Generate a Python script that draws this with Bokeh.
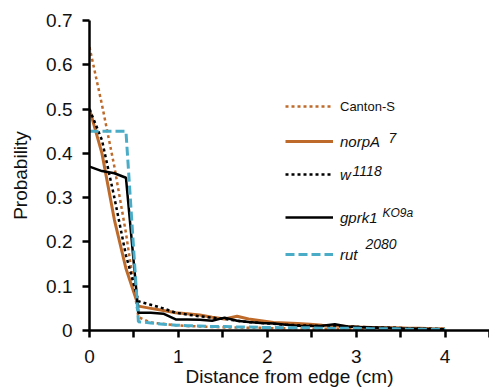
from bokeh.plotting import figure
from bokeh.models import Range1d, FixedTicker, Legend, LegendItem, Label
from bokeh.embed import file_html
from bokeh.resources import INLINE

# ---- data ----
distance_cm = [0.00, 0.14, 0.28, 0.41, 0.55, 0.69, 0.83, 0.97, 1.10, 1.24,
               1.38, 1.52, 1.66, 1.79, 1.93, 2.07, 2.21, 2.34, 2.48, 2.62,
               2.76, 2.90, 3.03, 3.17, 3.31, 3.45, 3.59, 3.72, 3.86, 4.00]

canton_s = [0.64, 0.51, 0.37, 0.22, 0.03, 0.018, 0.015, 0.012, 0.010, 0.009,
            0.008, 0.007, 0.007, 0.006, 0.006, 0.005, 0.005, 0.005, 0.004, 0.004,
            0.004, 0.004, 0.003, 0.003, 0.003, 0.003, 0.003, 0.002, 0.002, 0.002]

norpA7 = [0.50, 0.40, 0.25, 0.14, 0.055, 0.050, 0.045, 0.040, 0.038, 0.035,
          0.030, 0.026, 0.032, 0.026, 0.022, 0.018, 0.017, 0.016, 0.014, 0.012,
          0.011, 0.009, 0.008, 0.007, 0.006, 0.006, 0.005, 0.005, 0.004, 0.004]

w1118 = [0.50, 0.43, 0.30, 0.17, 0.066, 0.058, 0.050, 0.040, 0.036, 0.032,
         0.029, 0.026, 0.022, 0.019, 0.017, 0.015, 0.013, 0.012, 0.011, 0.010,
         0.010, 0.009, 0.008, 0.007, 0.006, 0.006, 0.005, 0.004, 0.004, 0.003]

gprk1_ko9a = [0.37, 0.36, 0.355, 0.345, 0.040, 0.040, 0.038, 0.025, 0.025, 0.024,
              0.022, 0.029, 0.022, 0.019, 0.017, 0.016, 0.013, 0.011, 0.010, 0.011,
              0.014, 0.009, 0.008, 0.007, 0.006, 0.005, 0.004, 0.004, 0.003, 0.003]

rut2080 = [0.45, 0.45, 0.45, 0.45, 0.020, 0.017, 0.014, 0.012, 0.011, 0.010,
           0.009, 0.009, 0.008, 0.008, 0.007, 0.007, 0.006, 0.006, 0.006, 0.005,
           0.005, 0.005, 0.005, 0.004, 0.004, 0.004, 0.003, 0.003, 0.003, 0.003]

x_ticks = [0, 1, 2, 3, 4]
x_minor_ticks = [0.5, 1.5, 2.5, 3.5, 4.5]
y_ticks = [0, 0.1, 0.2, 0.3, 0.4, 0.5, 0.6, 0.7]
y_tick_labels = ["0", "0.1", "0.2", "0.3", "0.4", "0.5", "0.6", "0.7"]

BROWN = "#BE6A2A"
CYAN = "#4AACC6"
FONT = "Liberation Sans"

p = figure(width=489, height=392, output_backend="svg", toolbar_location=None,
           x_range=Range1d(0, 4.5), y_range=Range1d(0, 0.7),
           min_border_left=89, min_border_right=0, min_border_top=20, min_border_bottom=62)
p.outline_line_color = None
p.xgrid.visible = False
p.ygrid.visible = False
p.background_fill_color = "white"

r_cs = p.line(distance_cm, canton_s, line_color=BROWN, line_width=2.5, line_dash="3 3")
r_np = p.line(distance_cm, norpA7, line_color=BROWN, line_width=3)
r_w = p.line(distance_cm, w1118, line_color="black", line_width=2.5, line_dash="3 3")
r_g = p.line(distance_cm, gprk1_ko9a, line_color="black", line_width=2.5)
r_r = p.line(distance_cm, rut2080, line_color=CYAN, line_width=3, line_dash="9 4")

# axes
for ax in (p.xaxis[0], p.yaxis[0]):
    ax.axis_line_width = 2.5
    ax.axis_line_color = "black"
    ax.major_tick_line_width = 2.5
    ax.minor_tick_line_width = 2.5
    ax.major_tick_line_color = "black"
    ax.minor_tick_line_color = "black"
    ax.major_tick_in = 0
    ax.major_tick_out = 7
    ax.major_label_text_font = FONT
    ax.major_label_text_font_size = "19px"
    ax.major_label_text_color = "#111111"
    ax.axis_label_text_font = FONT
    ax.axis_label_text_font_size = "19px"
    ax.axis_label_text_font_style = "normal"
    ax.axis_label_text_color = "#111111"

p.xaxis.ticker = FixedTicker(ticks=x_ticks, minor_ticks=x_minor_ticks)
p.xaxis.minor_tick_in = 0
p.xaxis.minor_tick_out = 7
p.xaxis.major_label_standoff = 12
p.xaxis.axis_label = "Distance from edge (cm)"
p.xaxis.axis_label_standoff = 0

p.yaxis.ticker = FixedTicker(ticks=y_ticks, minor_ticks=[])
p.yaxis.major_label_overrides = {t: s for t, s in zip(y_ticks, y_tick_labels)}
p.yaxis.minor_tick_out = 0
p.yaxis.major_label_standoff = 10
p.yaxis.axis_label = "Probability"
p.yaxis.axis_label_standoff = 12

# legend (one row each, to match the uneven row spacing)
def add_row(renderer, text, loc, style, size):
    leg = Legend(items=[LegendItem(label=text, renderers=[renderer])], location=loc,
                 glyph_width=48, glyph_height=20, label_height=20, label_standoff=7,
                 padding=0, margin=0, border_line_color=None, background_fill_alpha=0,
                 label_text_font=FONT, label_text_font_size=size,
                 label_text_font_style=style, label_text_color="#111111")
    p.add_layout(leg)

add_row(r_cs, "Canton-S", (196, 214), "normal", "13px")
add_row(r_np, "norpA", (196, 179), "italic", "15px")
add_row(r_w, "w", (196, 146), "italic", "15px")
add_row(r_g, "gprk1", (196, 103), "italic", "15px")
add_row(r_r, "rut", (196, 66), "italic", "15px")

def sup(text, x, y, size):
    p.add_layout(Label(x=x, y=y, text=text, text_font=FONT, text_font_size=size,
                       text_font_style="italic", text_baseline="alphabetic",
                       text_color="#111111"))

sup("7", 3.364, 0.435, "14px")
sup("1118", 2.960, 0.360, "14px")
sup("KO9a", 3.296, 0.266, "12px")
sup("2080", 3.105, 0.196, "14px")

open("out.html", "w").write(file_html(p, INLINE))
